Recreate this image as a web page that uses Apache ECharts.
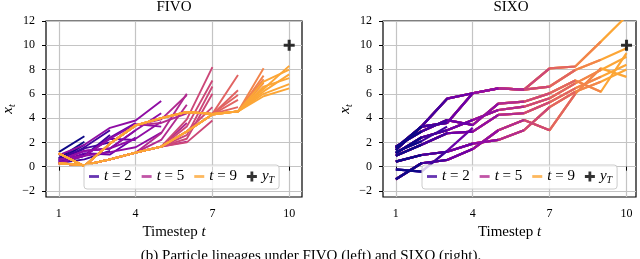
<!DOCTYPE html>
<html><head><meta charset="utf-8">
<script src="https://cdn.jsdelivr.net/npm/echarts@6/dist/echarts.min.js"></script>
<style>html,body{margin:0;padding:0;background:#fff}#c{width:640px;height:259px}</style>
</head><body><div id="c"></div>
<script>
// ---------- data ----------
const xTicks = [1, 4, 7, 10];
const yTicks = [-2, 0, 2, 4, 6, 8, 10, 12];
const legendSteps = [2, 5, 9];
const targetPoint = [[10, 10]];
const panelTitles = ['FIVO', 'SIXO'];
const captionText = '(b) Particle lineages under FIVO (left) and SIXO (right).';

// FIVO: particle lineages, grouped by the last timestep they reach (x_t for t = 1..k)
const fivoT2 = [[1.2,2.5],[0.7,2.05],[0.5,1.5],[0.25,1.0],[0.6,1.8]];
const fivoT3 = [[0.4,1.6,3.0],[0.3,0.9,2.6],[0.7,1.5,2.0],[0.3,0.6,1.3]];
const fivoT4 = [[0.5,1.3,1.5,3.0],[0.3,0.9,2.4,3.6],[0.6,0.9,2.3,2.2],[0.4,1.1,1.0,2.4]];
const fivoT5 = [[0.95,1.8,3.2,3.8,5.4],[0.5,1.3,1.5,3.0,4.4],[0.5,1.3,1.5,2.3,3.7],[0.3,0.9,1.2,1.6,2.8],[0.6,0.9,2.3,3.5,3.3]];
const fivoT6 = [[0.28,0.12,0.6,1.15,2.75,6.0],[0.28,0.12,0.6,1.15,2.2,5.1],[0.28,0.12,0.6,1.15,1.65,3.6],[0.28,0.12,0.6,1.15,1.65,2.06],[1.1,0.05,1.9,3.4,3.9,5.9],[1.1,0.05,1.9,3.4,3.6,4.4]];
const fivoT7 = [[0.28,0.12,0.6,1.15,1.65,3.9,8.2],[0.28,0.12,0.6,1.15,1.65,3.3,7.1],[0.28,0.12,0.6,1.15,1.65,2.6,6.6],[0.28,0.12,0.6,1.15,1.65,2.3,6.0],[0.28,0.12,0.6,1.15,1.65,2.9,4.9],[0.28,0.12,0.6,1.15,1.65,2.0,3.8]];
const fivoT8 = [[1.1,0.05,1.9,3.4,4.0,4.5,4.35,7.55],[0.28,0.12,0.6,1.15,1.65,2.9,4.3,6.3],[1.1,0.05,1.9,3.4,4.0,4.5,4.35,5.9],[0.28,0.12,0.6,1.15,1.65,2.9,4.3,5.5],[1.1,0.05,1.9,3.4,4.0,4.5,4.35,4.9]];
const fivoT9 = [[1.1,0.05,1.9,3.4,4.0,4.5,4.35,4.55,8.1],[1.1,0.05,1.9,3.4,4.0,4.5,4.35,4.55,7.5],[0.28,0.12,0.6,1.15,1.65,2.9,4.3,4.55,7.2],[0.28,0.12,0.6,1.15,1.65,2.9,4.3,4.55,6.9],[1.1,0.05,1.9,3.4,4.0,4.5,4.35,4.55,6.5]];
const fivoT10 = [[1.1,0.05,1.9,3.4,4.0,4.5,4.35,4.55,6.4,8.3],[1.1,0.05,1.9,3.4,4.0,4.5,4.35,4.55,7.0,8.0],[0.28,0.12,0.6,1.15,1.65,2.9,4.3,4.55,6.2,7.6],[0.28,0.12,0.6,1.15,1.65,2.9,4.3,4.55,6.6,7.3],[1.1,0.05,1.9,3.4,4.0,4.5,4.35,4.55,6.0,6.8],[0.28,0.12,0.6,1.15,1.65,2.9,4.3,4.55,5.8,6.45]];

// SIXO: full particle trajectories (x_t for t = 1..len); a lineage at step k is the prefix of length k
const sixoP1 = [1.37,3.3,5.6,6.05,6.45,6.35,8.1,8.25,10.3,12.4];
const sixoP2 = [1.55,3.3,3.6,6.05,6.45,6.35,6.6,7.96,8.8,9.75];
const sixoP3 = [1.65,2.9,3.84,3.43,5.2,5.35,6.04,7.1,6.17,9.35];
const sixoP4 = [1.1,2.4,3.0,3.84,4.67,4.94,5.63,6.86,7.96,9.05];
const sixoP5 = [0.9,1.8,2.75,2.88,4.26,4.4,5.3,6.45,7.4,8.4];
const sixoP6 = [0.41,0.96,1.23,1.9,2.2,3.0,4.9,6.17,7.0,8.0];
const sixoP7 = [-1.04,0.28,0.55,1.45,3.0,3.84,3.0,6.0,8.1,7.4];
const sixoP8 = [-0.22,-0.41,1.3,3.2];
const sixoP9 = [1.2,2.1,3.3];

// ---------- styling ----------
const plasma = {2:'#0d0887',3:'#41049d',4:'#6a00a8',5:'#8f0da4',6:'#b12a90',7:'#cc4778',8:'#e16462',9:'#f2844b',10:'#fca636'};
const legendColor = {2:'#41049d',5:'#b12a90',9:'#fca636'};
const FF = "'Liberation Serif', 'Times New Roman', serif";
const plusPath = 'path://M3.6,0H6.4V3.6H10V6.4H6.4V10H3.6V6.4H0V3.6H3.6Z';
const barPath = 'path://M0,0M0,3.6H10V6.4H0ZM10,10';
const fmt = v => v < 0 ? '\u2212' + Math.abs(v) : String(v);

const grids = [
  {left:46, top:21, width:256, height:176},
  {left:383, top:21, width:253, height:176}
];
const xMax = [10.5, 10.37];
const lineW = [1.9, 2.2];

function lineSeries(ys, k, gi) {
  return {
    type:'line', xAxisIndex:gi, yAxisIndex:gi, silent:true,
    data: ys.map((y,i)=>[i+1,y]), showSymbol:false, symbol:'none',
    lineStyle:{color:plasma[k], width:lineW[gi], join:'round'}, clip:true, z:2
  };
}

const series = [];
// FIVO drawn from early to late steps
const fivo = {2:fivoT2,3:fivoT3,4:fivoT4,5:fivoT5,6:fivoT6,7:fivoT7,8:fivoT8,9:fivoT9,10:fivoT10};
for (let k=2;k<=10;k++) fivo[k].forEach(ys => series.push(lineSeries(ys,k,0)));
// SIXO lineages: prefixes for each step, late steps first
const sixoPaths = [sixoP1,sixoP2,sixoP3,sixoP4,sixoP5,sixoP6,sixoP7,sixoP8,sixoP9];
for (let k=10;k>=2;k--) sixoPaths.forEach(p => { if (p.length>=k) series.push(lineSeries(p.slice(0,k),k,1)); });

[0,1].forEach(gi => series.push({
  type:'scatter', name:'yT', xAxisIndex:gi, yAxisIndex:gi, data:targetPoint,
  symbol:plusPath, symbolSize:11, itemStyle:{color:'#000'}, z:5, silent:true
}));
legendSteps.forEach(s => series.push({
  type:'scatter', name:'t'+s, xAxisIndex:0, yAxisIndex:0, data:[], itemStyle:{color:legendColor[s]}
}));

const rich = {
  i:{fontFamily:FF, fontStyle:'italic', fontSize:15, color:'#000'},
  n:{fontFamily:FF, fontSize:15, color:'#000'},
  s:{fontFamily:FF, fontStyle:'italic', fontSize:10, color:'#000', padding:[7,0,0,0]}
};

const xAxes = grids.map((g,gi)=>({
  type:'value', gridIndex:gi, min:0.5, max:xMax[gi],
  axisLine:{show:false},
  axisTick:{show:true, customValues:xTicks, length:4, lineStyle:{color:'#000', width:1}},
  axisLabel:{customValues:xTicks, margin:11, fontFamily:FF, fontSize:12, color:'#000', formatter:fmt},
  splitLine:{show:true, lineStyle:{color:'#c4c4c4', width:1.2}},
  name:'{n|Timestep }{i|t}', nameLocation:'middle', nameGap:28, nameTextStyle:{rich}
}));
const yAxes = grids.map((g,gi)=>({
  type:'value', gridIndex:gi, min:-2.5, max:12,
  axisLine:{show:false},
  axisTick:{show:true, customValues:yTicks, length:4, lineStyle:{color:'#000', width:1}},
  axisLabel:{customValues:yTicks, margin:11, fontFamily:FF, fontSize:12, color:'#000', formatter:fmt},
  splitLine:{show:true, lineStyle:{color:'#c4c4c4', width:1.2}},
  name:'{i|x}{s|t}', nameLocation:'middle', nameRotate:90, nameGap:29, nameTextStyle:{rich}
}));

const legendLabel = n => n==='yT' ? '{i|y}{s|T}' : '{i|t} = ' + n.slice(1);
const legendData = legendSteps.map(s=>({name:'t'+s, icon:barPath})).concat([{name:'yT', icon:plusPath}]);
const legends = [84, 422].map(l=>({
  left:l, top:165, orient:'horizontal', data:legendData, itemWidth:10, itemHeight:10, itemGap:10,
  padding:[4,5,4,5], backgroundColor:'rgba(255,255,255,0.8)', borderColor:'#cccccc', borderWidth:1, borderRadius:3,
  selectedMode:false, formatter:legendLabel,
  textStyle:{fontFamily:FF, fontSize:15, color:'#000', rich}
}));

const chart = echarts.init(document.getElementById('c'), null, {renderer:'canvas'});
chart.setOption({
  animation:false,
  backgroundColor:'#fff',
  grid: grids.map(g=>Object.assign({show:true, borderColor:'#000', borderWidth:1.2, backgroundColor:'transparent', containLabel:false}, g)),
  xAxis:xAxes, yAxis:yAxes, legend:legends, series,
  graphic:[
    {type:'text', x:174, y:7, style:{text:panelTitles[0], fontFamily:FF, fontSize:15, fill:'#000', align:'center', verticalAlign:'middle', textAlign:'center', textVerticalAlign:'middle'}},
    {type:'text', x:511, y:7, style:{text:panelTitles[1], fontFamily:FF, fontSize:15, fill:'#000', align:'center', verticalAlign:'middle', textAlign:'center', textVerticalAlign:'middle'}},
    {type:'text', x:311, y:249, style:{text:captionText, fontFamily:FF, fontSize:15, fill:'#000', align:'center', verticalAlign:'top', textAlign:'center', textVerticalAlign:'top'}}
  ]
});
</script></body></html>
